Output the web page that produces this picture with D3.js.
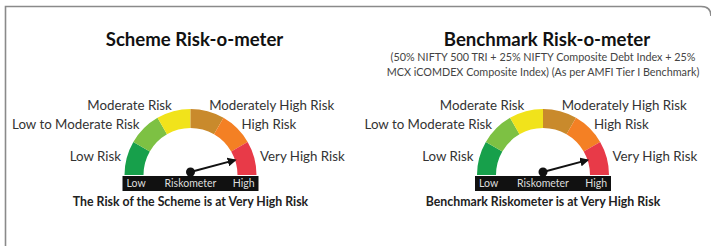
<!DOCTYPE html>
<html>
<head>
<meta charset="utf-8">
<script src="https://d3js.org/d3.v7.min.js"></script>
<style type="text/css">
body {margin:0;background:#fff;}
svg {display:block;}
text {font-family:Lato, "Open Sans", sans-serif;}
</style>
</head>
<body>
<svg id="chart" width="711" height="246"></svg>

<script type="text/javascript">
// risk levels, low to high
var riskLevels = ["Low Risk", "Low to Moderate Risk", "Moderate Risk", "Moderately High Risk", "High Risk", "Very High Risk"];
var riskColors = ["#17a04b", "#7dc143", "#f1e31b", "#c98a2c", "#f48024", "#e83a48"];
var barLabels = ["Low", "Riskometer", "High"];

var panelTitles = ["Scheme Risk-o-meter", "Benchmark Risk-o-meter"];
var panelSubtitles = [[], ["(50% NIFTY 500 TRI + 25% NIFTY Composite Debt Index + 25%", "MCX iCOMDEX Composite Index) (As per AMFI Tier I Benchmark)"]];
var panelCaptions = ["The Risk of the Scheme is at Very High Risk", "Benchmark Riskometer is at Very High Risk"];
// needle reading on a 0..6 scale (middle of "Very High Risk")
var needleValues = [5.5, 5.5];

var svg = d3.select("#chart");

// frame
svg.append("path")
	.attr("d", "M5.5,246 L5.5,6.5 L701,6.5 Q711,6.5 711,16")
	.attr("fill", "none")
	.attr("stroke", "#8a8a8a")
	.attr("stroke-width", 1.6);

var centers = [190.5, 543];
var cy = 175;
var rOuter = 66, rInner = 47;

var angle = d3.scaleLinear().domain([0, riskLevels.length]).range([-Math.PI / 2, Math.PI / 2]);
var arc = d3.arc().innerRadius(rInner).outerRadius(rOuter);

svg.append("defs").append("marker")
	.attr("id", "arrow")
	.attr("viewBox", "0 0 10 10")
	.attr("refX", 8).attr("refY", 5)
	.attr("markerWidth", 4.5).attr("markerHeight", 4.5)
	.attr("orient", "auto")
	.append("path")
	.attr("d", "M0,0 L10,5 L0,10 z")
	.attr("fill", "#111");

panelTitles.forEach(function(title, p) {
	var cx = centers[p];
	var g = svg.append("g");

	g.append("text")
		.attr("x", cx + 4).attr("y", 46)
		.attr("text-anchor", "middle")
		.attr("font-size", 18.6).attr("font-weight", 700)
		.attr("fill", "#111")
		.text(title);

	panelSubtitles[p].forEach(function(s, i) {
		g.append("text")
			.attr("x", cx).attr("y", 60.5 + i * 15)
			.attr("text-anchor", "middle")
			.attr("font-size", 10.8)
			.attr("fill", "#444")
			.text(s);
	});

	var gauge = g.append("g").attr("transform", "translate(" + cx + "," + cy + ")");

	gauge.selectAll("path.seg")
		.data(riskLevels)
		.enter().append("path")
		.attr("class", "seg")
		.attr("d", function(d, i) { return arc({startAngle: angle(i), endAngle: angle(i + 1)}); })
		.attr("fill", function(d, i) { return riskColors[i]; });

	gauge.selectAll("text.lvl")
		.data(riskLevels)
		.enter().append("text")
		.attr("class", "lvl")
		.attr("x", function(d, i) { return 72 * Math.sin(angle(i + 0.5)); })
		.attr("y", function(d, i) { return -72 * Math.cos(angle(i + 0.5)); })
		.attr("dy", "0.35em")
		.attr("text-anchor", function(d, i) { return i < 3 ? "end" : "start"; })
		.attr("font-size", 13.3)
		.attr("fill", "#333")
		.text(function(d) { return d; });

	// black bar
	gauge.append("rect")
		.attr("x", -68).attr("y", 1)
		.attr("width", 136).attr("height", 15)
		.attr("fill", "#111");

	var barX = [-64, 0, 64];
	var anchors = ["start", "middle", "end"];
	gauge.selectAll("text.bar")
		.data(barLabels)
		.enter().append("text")
		.attr("class", "bar")
		.attr("x", function(d, i) { return barX[i]; })
		.attr("y", 8.5)
		.attr("dy", "0.35em")
		.attr("text-anchor", function(d, i) { return anchors[i]; })
		.attr("font-size", 10.5)
		.attr("fill", "#ddd")
		.text(function(d) { return d; });

	// needle
	var a = angle(needleValues[p]);
	var len = 46;
	gauge.append("line")
		.attr("x1", 0).attr("y1", -3)
		.attr("x2", len * Math.sin(a)).attr("y2", -3 - len * Math.cos(a))
		.attr("stroke", "#111")
		.attr("stroke-width", 2)
		.attr("marker-end", "url(#arrow)");
	gauge.append("circle")
		.attr("cx", 0).attr("cy", -3)
		.attr("r", 4.5)
		.attr("fill", "#111");

	g.append("text")
		.attr("x", cx).attr("y", 202)
		.attr("dy", "0.35em")
		.attr("text-anchor", "middle")
		.attr("font-size", 12.3).attr("font-weight", 700)
		.attr("fill", "#222")
		.text(panelCaptions[p]);
});
</script>
</body>
</html>
